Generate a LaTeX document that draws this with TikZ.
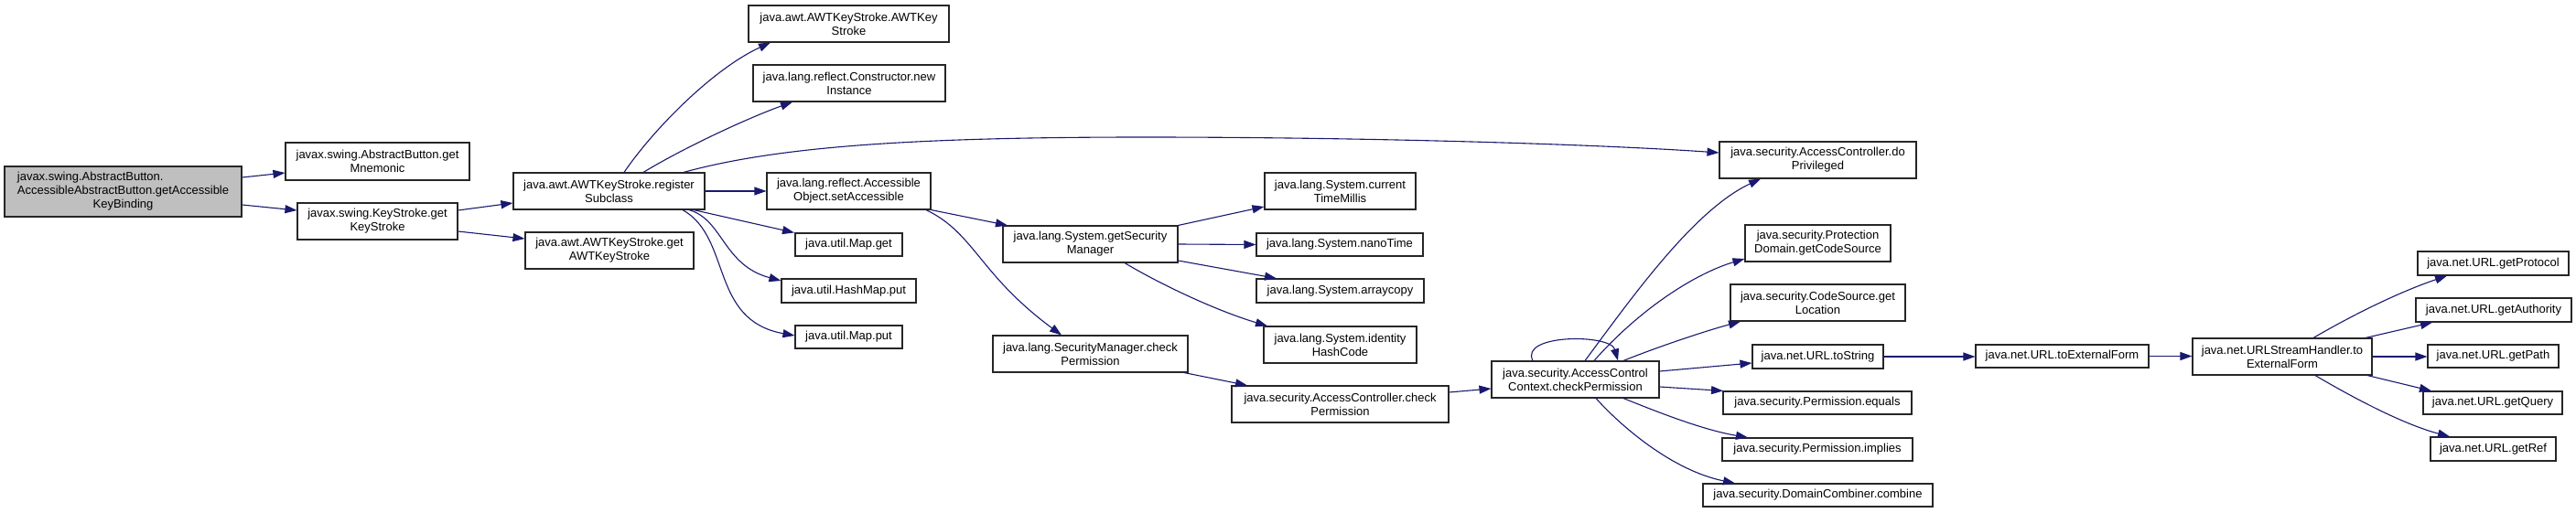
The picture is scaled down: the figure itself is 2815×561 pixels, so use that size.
\documentclass[tikz,border=0pt]{standalone}
\usepackage{fontspec}
\setmainfont{Liberation Sans}
\usepackage{calc}
\usetikzlibrary{arrows.meta}
\definecolor{edgecol}{HTML}{191970}
\definecolor{rootfill}{HTML}{BFBFBF}
\begin{document}
\begin{tikzpicture}[x=1pt,y=-1pt,
  fn/.style={draw=black!85, line width=1.1pt, fill=white, inner sep=0pt, align=center,
             font=\fontsize{13}{15}\selectfont, text=black},
  call/.style={draw=edgecol, line width=1.1pt, -{Triangle[length=13pt,width=9pt]}, fill=none}]
\useasboundingbox (0,0) rectangle (2815,561);
\fill[white] (0,0) rectangle (2815,561);

% column 1
\node[fn, fill=rootfill, minimum width=259pt, minimum height=55pt] (root) at (134.5,209.5)
  {\makebox[\widthof{AccessibleAbstractButton.getAccessible}][l]{javax.swing.AbstractButton.}\\AccessibleAbstractButton.getAccessible\\KeyBinding};
% column 2
\node[fn, minimum width=201pt, minimum height=41pt] (mnem) at (412.5,176.5) {javax.swing.AbstractButton.get\\Mnemonic};
\node[fn, minimum width=175pt, minimum height=40pt] (getks) at (412.5,242) {javax.swing.KeyStroke.get\\KeyStroke};
% column 3
\node[fn, minimum width=209pt, minimum height=40pt] (regsub) at (665.5,209) {java.awt.AWTKeyStroke.register\\Subclass};
\node[fn, minimum width=184pt, minimum height=40pt] (getAWT) at (666,274) {java.awt.AWTKeyStroke.get\\AWTKeyStroke};
% column 4
\node[fn, minimum width=219pt, minimum height=40pt] (awtks) at (927.5,26) {java.awt.AWTKeyStroke.AWTKey\\Stroke};
\node[fn, minimum width=210pt, minimum height=40pt] (newinst) at (928,91) {java.lang.reflect.Constructor.new\\Instance};
\node[fn, minimum width=179pt, minimum height=40pt] (setAcc) at (927.5,209) {java.lang.reflect.Accessible\\Object.setAccessible};
\node[fn, minimum width=117pt, minimum height=25pt] (mapget) at (927.5,267.5) {java.util.Map.get};
\node[fn, minimum width=147pt, minimum height=26pt] (hashput) at (927.5,318) {java.util.HashMap.put};
\node[fn, minimum width=117pt, minimum height=25pt] (mapput) at (927.5,368.5) {java.util.Map.put};
% column 5
\node[fn, minimum width=191pt, minimum height=40pt] (getSM) at (1191.5,267) {java.lang.System.getSecurity\\Manager};
\node[fn, minimum width=213pt, minimum height=40pt] (smcheck) at (1191.5,387) {java.lang.SecurityManager.check\\Permission};
% column 6
\node[fn, minimum width=165pt, minimum height=40pt] (ctm) at (1464.5,209) {java.lang.System.current\\TimeMillis};
\node[fn, minimum width=182pt, minimum height=25pt] (nano) at (1464,267.5) {java.lang.System.nanoTime};
\node[fn, minimum width=183pt, minimum height=26pt] (arrcopy) at (1464.5,318) {java.lang.System.arraycopy};
\node[fn, minimum width=167pt, minimum height=40pt] (ihc) at (1464.5,377) {java.lang.System.identity\\HashCode};
\node[fn, minimum width=237pt, minimum height=40pt] (accheck) at (1464.5,442) {java.security.AccessController.check\\Permission};
% column 7
\node[fn, minimum width=183pt, minimum height=40pt] (accctx) at (1721.5,415) {java.security.AccessControl\\Context.checkPermission};
% column 8
\node[fn, minimum width=215pt, minimum height=40pt] (doPriv) at (1986.5,175) {java.security.AccessController.do\\Privileged};
\node[fn, minimum width=159pt, minimum height=40pt] (pdgcs) at (1986.5,266) {java.security.Protection\\Domain.getCodeSource};
\node[fn, minimum width=191pt, minimum height=40pt] (csgl) at (1986.5,331) {java.security.CodeSource.get\\Location};
\node[fn, minimum width=143pt, minimum height=26pt] (urlts) at (1986.5,390) {java.net.URL.toString};
\node[fn, minimum width=206pt, minimum height=25pt] (permeq) at (1986,440.5) {java.security.Permission.equals};
\node[fn, minimum width=208pt, minimum height=25pt] (permimp) at (1986,491.5) {java.security.Permission.implies};
\node[fn, minimum width=251pt, minimum height=25pt] (dcc) at (1986.5,541.5) {java.security.DomainCombiner.combine};
% column 9, 10
\node[fn, minimum width=189pt, minimum height=25pt] (urltef) at (2253.5,389.5) {java.net.URL.toExternalForm};
\node[fn, minimum width=196pt, minimum height=40pt] (ushtef) at (2494,390) {java.net.URLStreamHandler.to\\ExternalForm};
% column 11
\node[fn, minimum width=165pt, minimum height=26pt] (getproto) at (2724.5,288) {java.net.URL.getProtocol};
\node[fn, minimum width=170pt, minimum height=26pt] (getauth) at (2725,339) {java.net.URL.getAuthority};
\node[fn, minimum width=143pt, minimum height=25pt] (getpath) at (2724.5,389.5) {java.net.URL.getPath};
\node[fn, minimum width=152pt, minimum height=25pt] (getquery) at (2724,440.5) {java.net.URL.getQuery};
\node[fn, minimum width=137pt, minimum height=26pt] (getref) at (2724.5,491) {java.net.URL.getRef};

% edges
\draw[call] (root.east |- 0,194) -- (mnem.west |- 0,189);
\draw[call] (root.east |- 0,224) -- (getks.west |- 0,230);
\draw[call] (getks.east |- 0,230) -- (regsub.west |- 0,222);
\draw[call] (getks.east |- 0,253) -- (getAWT.west |- 0,261);

\draw[call] (682,0 |- regsub.north) .. controls (715,140) and (780,75) .. (842,0 |- awtks.south);
\draw[call] (703,0 |- regsub.north) .. controls (750,160) and (820,128) .. (866,0 |- newinst.south);
\draw[call] (747,0 |- regsub.north) .. controls (850,160) and (1000,150) .. (1250,150)
   .. controls (1500,150) and (1750,158) .. (doPriv.west |- 0,167);
\draw[call] (regsub.east) -- (setAcc.west);
\draw[call] (758,0 |- regsub.south) -- (868,0 |- mapget.north);
\draw[call] (753,0 |- regsub.south) .. controls (790,240) and (790,290) .. (hashput.west |- 0,307);
\draw[call] (746,0 |- regsub.south) .. controls (800,260) and (775,350) .. (mapput.west |- 0,367);

\draw[call] (setAcc.south east) -- (1101,0 |- getSM.north);
\draw[call] (1012,0 |- setAcc.south) .. controls (1065,255) and (1070,300) .. (1160,0 |- smcheck.north);

\draw[call] (getSM.north east) -- (ctm.west |- 0,226);
\draw[call] (getSM.east) -- (nano.west);
\draw[call] (getSM.east |- 0,285) -- (1395,0 |- arrcopy.north);
\draw[call] (1229,0 |- getSM.south) .. controls (1270,312) and (1330,340) .. (1385,0 |- ihc.north);
\draw[call] (1294,0 |- smcheck.south) -- (1363,0 |- accheck.north);
\draw[call] (accheck.east |- 0,429) -- (accctx.west |- 0,425);

\draw[call] (1675,0 |- accctx.north) .. controls (1660,365) and (1760,365) .. (1768,0 |- accctx.north);
\draw[call] (1732,0 |- accctx.north) .. controls (1780,330) and (1850,230) .. (1924,0 |- doPriv.south);
\draw[call] (1742,0 |- accctx.north) .. controls (1790,340) and (1850,300) .. (pdgcs.west |- 0,283);
\draw[call] (1774,0 |- accctx.north) .. controls (1810,380) and (1860,363) .. (1902,0 |- csgl.south);
\draw[call] (accctx.east |- 0,406) -- (urlts.west |- 0,397);
\draw[call] (accctx.east |- 0,423) -- (1883,0 |- permeq.north);
\draw[call] (1774,0 |- accctx.south) .. controls (1810,450) and (1860,470) .. (1910,0 |- permimp.north);
\draw[call] (1744,0 |- accctx.south) .. controls (1775,470) and (1830,515) .. (1896,0 |- dcc.north);

\draw[call] (urlts.east) -- (urltef.west |- urlts.east);
\draw[call] (urltef.east) -- (ushtef.west |- urltef.east);

\draw[call] (2528,0 |- ushtef.north) .. controls (2570,345) and (2620,320) .. (2674,0 |- getproto.south);
\draw[call] (2585,0 |- ushtef.north) -- (2658,0 |- getauth.south);
\draw[call] (ushtef.east) -- (getpath.west |- ushtef.east);
\draw[call] (2587,0 |- ushtef.south) -- (2657,0 |- getquery.north);
\draw[call] (2530,0 |- ushtef.south) .. controls (2580,440) and (2630,465) .. (2677,0 |- getref.north);
\end{tikzpicture}
\end{document}
